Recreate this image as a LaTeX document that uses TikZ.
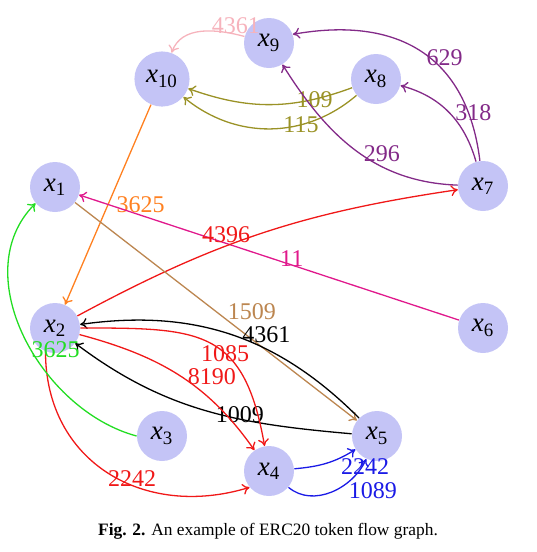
\documentclass[tikz,border=0pt]{standalone}
\usepackage{fontspec}
\setmainfont{Liberation Serif}
\usepackage{xcolor}
\usepackage{tikz}
\usetikzlibrary{arrows.meta}
\definecolor{cAcct}{HTML}{C4C4F6}
\definecolor{cPink}{HTML}{F6B3BC}
\definecolor{cOlive}{HTML}{9A9226}
\definecolor{cViolet}{HTML}{832A88}
\definecolor{cOrange}{HTML}{FF8020}
\definecolor{cMagenta}{HTML}{E0198C}
\definecolor{cRed}{HTML}{F01818}
\definecolor{cBrown}{HTML}{BC8650}
\definecolor{cGreen}{HTML}{22DD22}
\definecolor{cBlue}{HTML}{1A1AE6}
\newcommand{\xacc}[1]{\textit{x}\textsubscript{#1}}
\tikzset{
  acct/.style   = {circle, fill=cAcct, inner sep=3.5pt, minimum size=25pt,
                   font=\fontsize{13.5}{15}\selectfont},
  flow/.style   = {-{To[length=3.5pt,width=5.5pt]}, line width=0.65pt},
  amt/.style    = {font=\fontsize{12}{14}\selectfont, inner sep=1pt},
  figcap/.style = {font=\fontsize{8.7}{10}\selectfont},
}
\begin{document}
\begin{tikzpicture}[x=0.5pt, y=0.5pt]
  \useasboundingbox (0,0) rectangle (536,-552);
  % accounts
  \node[acct] (x9)  at (269,-43)  {\xacc{9}};
  \node[acct] (x10) at (162,-79)  {\xacc{10}};
  \node[acct] (x8)  at (376,-79)  {\xacc{8}};
  \node[acct] (x1)  at (55,-187)  {\xacc{1}};
  \node[acct] (x7)  at (483,-186) {\xacc{7}};
  \node[acct] (x2)  at (55,-328)  {\xacc{2}};
  \node[acct] (x6)  at (483,-328) {\xacc{6}};
  \node[acct] (x3)  at (162,-436) {\xacc{3}};
  \node[acct] (x5)  at (377,-436) {\xacc{5}};
  \node[acct] (x4)  at (269,-471) {\xacc{4}};
  % token transfers
  \draw[flow, cPink] (x9) to[out=165, in=70]
    node[amt, pos=0.1, anchor=south, inner sep=0pt] {4361} (x10);
  \draw[flow, cOlive] (x8) to[bend left=20] node[amt, pos=0.22] {109} (x10);
  \draw[flow, cOlive] (x8) to[bend left=40] node[amt, pos=0.33] {115} (x10);
  \draw[flow, cViolet] (x7) to[out=97, in=10, looseness=1.2]
    node[amt, pos=0.45, anchor=west, xshift=-3pt] {629} (x9.20);
  \draw[flow, cViolet] (x7) to[out=106, in=-15]
    node[amt, pos=0.45, anchor=west, xshift=0pt, yshift=2pt] {318} (x8);
  \draw[flow, cViolet] (x7) to[out=178, in=-58]
    node[amt, pos=0.35, above=1pt] {296} (x9);
  \draw[flow, cOrange] (x10) -- node[amt, pos=0.5, right=3pt] {3625} (x2);
  \draw[flow, cMagenta] (x6) -- node[amt, pos=0.44, above=-2pt] {11} (x1);
  \draw[flow, cRed] (x2) to[bend left=10] node[amt, pos=0.4, above] {4396} (x7);
  \draw[flow, cBrown] (x1) --
    node[amt, pos=0.54, anchor=south west, inner sep=0pt] {1509} (x5);
  \draw[flow, black] (x5) to[out=135, in=8]
    node[amt, pos=0.37, above=2pt] {4361} (x2);
  \draw[flow, black] (x5) to[out=175, in=-37]
    node[amt, pos=0.37, yshift=2pt] {1009} (x2);
  \draw[flow, cRed] (x2) to[out=0, in=100, looseness=1.4]
    node[amt, pos=0.6] {1085} (x4);
  \draw[flow, cRed] (x2) to[out=-15, in=125]
    node[amt, pos=0.55, anchor=west, inner sep=0pt, yshift=2pt] {8190} (x4);
  \draw[flow, cRed] (x2.-112) to[out=-90, in=197, looseness=1.15]
    node[amt, pos=0.6, above=-2pt] {2242} (x4.-140);
  \draw[flow, cGreen] (x3.180) to[out=165, in=-135]
    node[amt, pos=0.45, right, inner sep=0pt] {3625} (x1.-140);
  \draw[flow, cBlue] (x4) to[out=5, in=-148]
    node[amt, pos=0.75, anchor=north west, inner sep=0pt] {2242} (x5);
  \draw[flow, cBlue] (x4) to[out=-40, in=-115]
    node[amt, pos=0.7, anchor=north west, inner sep=0pt] {1089} (x5);
  % caption
  \node[figcap] (cap) at (268,-531)
    {\textbf{Fig. 2.} An example of ERC20 token flow graph.};
\end{tikzpicture}
\end{document}
